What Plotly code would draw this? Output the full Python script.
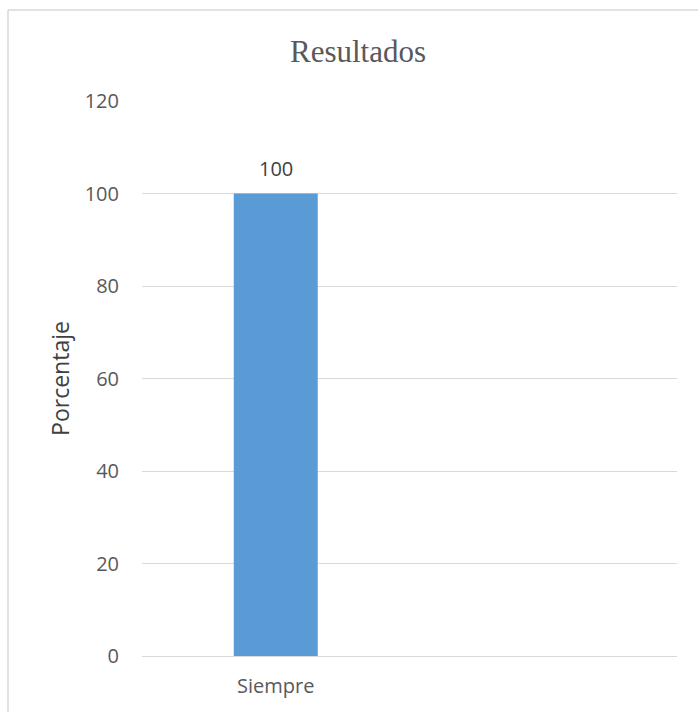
import plotly.graph_objects as go

# Chart data
categories = ["Siempre"]
values = [100]
y_ticks = [0, 20, 40, 60, 80, 100, 120]

W, H = 698, 712
L, R, T, B = 142, 21, 101, 56
pw, ph = W - L - R, H - T - B

def px_x(x):
    return (x - L) / pw

def px_y(y):
    return (H - B - y) / ph

fig = go.Figure(
    go.Bar(
        x=categories,
        y=values,
        width=0.314,
        marker=dict(color="#5B9BD5", line=dict(width=0)),
        hoverinfo="x+y",
    )
)

# value labels above the bars
for c, v in zip(categories, values):
    fig.add_annotation(
        x=c, y=v, text=str(v), showarrow=False,
        xanchor="center", yanchor="bottom", yshift=10,
        font=dict(family="Open Sans", size=20, color="#404040"),
    )

fig.update_layout(
    width=W,
    height=H,
    margin=dict(l=L, r=R, t=T, b=B),
    paper_bgcolor="white",
    plot_bgcolor="white",
    showlegend=False,
    title=dict(
        text="Resultados",
        font=dict(family="Liberation Serif", size=31, color="#595959"),
        x=358 / W,
        xanchor="center",
        y=1 - 51 / H,
        yanchor="middle",
    ),
    xaxis=dict(
        type="category",
        range=[-0.5, 1.5],
        showgrid=False,
        showline=False,
        ticks="",
        tickfont=dict(family="Open Sans", size=20, color="#595959"),
        ticklabelstandoff=16,
    ),
    yaxis=dict(
        range=[0, 120],
        tickvals=y_ticks,
        showgrid=True,
        gridcolor="#D9D9D9",
        gridwidth=1,
        zeroline=True,
        zerolinecolor="#D9D9D9",
        zerolinewidth=1,
        showline=False,
        ticks="",
        tickfont=dict(family="Open Sans", size=20, color="#595959"),
        ticklabelstandoff=22,
        title=dict(
            text="Porcentaje",
            font=dict(family="Open Sans", size=23, color="#404040"),
            standoff=8,
        ),
    ),
    shapes=[
        # chart frame: top and left edges
        dict(type="line", xref="paper", yref="paper",
             x0=px_x(8), x1=px_x(W + 5), y0=px_y(10), y1=px_y(10),
             line=dict(color="#D9D9D9", width=1.5)),
        dict(type="line", xref="paper", yref="paper",
             x0=px_x(8), x1=px_x(8), y0=px_y(10), y1=px_y(H + 5),
             line=dict(color="#D9D9D9", width=1.5)),
    ],
)

fig.write_html("out.html")
